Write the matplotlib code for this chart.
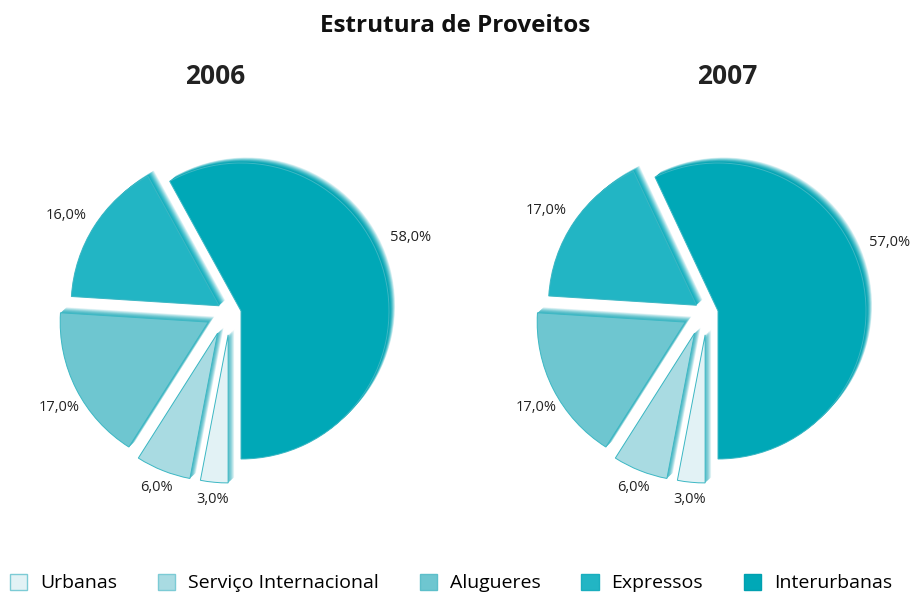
import matplotlib
matplotlib.use("Agg")
import matplotlib.pyplot as plt
import numpy as np
from matplotlib.colors import to_rgb
from matplotlib.patches import Patch

plt.rcParams['font.family'] = ['Open Sans', 'DejaVu Sans']

categories = ["Urbanas", "Serviço Internacional", "Alugueres", "Expressos", "Interurbanas"]
values_2006 = [3.0, 6.0, 17.0, 16.0, 58.0]
values_2007 = [3.0, 6.0, 17.0, 17.0, 57.0]
years = ["2006", "2007"]
colors = ["#e2f2f5", "#a9dbe2", "#6ec6d0", "#22b5c4", "#00a8b7"]
rim_base = ["#62c1cc", "#55bcc8", "#45b8c4", "#14afbf", "#00a3b3"]

W, H = 916, 599
R_PX = 148.0
explode = [20 / R_PX] * 4 + [0.0]
# extra perspective nudge of each exploded slice (pixels, x right / y up)
nudge_px = [(-11, -4), (-16, -3.5), (-15, -2), (-5, -5.5), (0, 0)]
label_nudge = [0, 0, 3, 2, 9]     # degrees
label_dist = [1.12, 1.12, 1.16, 1.2, 1.25]

fig = plt.figure(figsize=(W / 100, H / 100), dpi=100)


def blend(c, t):
    r = np.array(to_rgb(c))
    return tuple(r + (1 - r) * t)


def fmt(p):
    return f"{p:.1f}".replace(".", ",") + "%"


def place(wedges):
    for w, (nx, ny) in zip(wedges, nudge_px):
        w.set_center(tuple(np.array(w.center) + np.array([nx, ny]) / R_PX))


def draw(ax, vals):
    n = 14
    dx, dy = 6.0 / R_PX, 5.5 / R_PX
    for k in range(n, 0, -1):
        t = 0.88 * ((k - 1) / (n - 1)) ** 1.6
        cols = [blend(c, t) for c in rim_base]
        wl, _ = ax.pie(vals, colors=cols, explode=explode, startangle=-90, counterclock=False,
                       center=(k * dx / n, k * dy / n), radius=1.0,
                       wedgeprops=dict(linewidth=0))
        place(wl)
    wedges, _ = ax.pie(
        vals, colors=colors, explode=explode, startangle=-90, counterclock=False, radius=1.0,
        wedgeprops=dict(linewidth=0.7, edgecolor="#3db8c4"))
    place(wedges)
    for i, (w, v) in enumerate(zip(wedges, vals)):
        mid = np.deg2rad((w.theta1 + w.theta2) / 2 + label_nudge[i])
        cx, cy = w.center
        ax.text(cx + label_dist[i] * np.cos(mid), cy + label_dist[i] * np.sin(mid), fmt(v),
                ha="center", va="center", fontsize=10.5, color="#222222")
    lim = 200 / R_PX
    ax.set_xlim(-lim, lim)
    ax.set_ylim(-lim, lim)
    ax.set_aspect("equal")
    ax.axis("off")


centers_x = [241, 718]
for i, (yr, vals) in enumerate(zip(years, [values_2006, values_2007])):
    cx = centers_x[i]
    ax = fig.add_axes([(cx - 200) / W, (H - 511) / H, 400 / W, 400 / H])
    draw(ax, vals)

fig.text(455 / W, 1 - 26 / H, "Estrutura de Proveitos", ha="center", va="center",
         fontsize=17.5, fontweight="bold", color="#111111")
fig.text(215 / W, 1 - 76 / H, years[0], ha="center", va="center",
         fontsize=19, fontweight="bold", color="#222222")
fig.text(727 / W, 1 - 76 / H, years[1], ha="center", va="center",
         fontsize=19, fontweight="bold", color="#222222")

edgecols = ["#7ccbd5", "#7ccbd5", "#5dbfca", "#1aaebe", "#00a0b0"]
handles = [Patch(facecolor=c, edgecolor=e, linewidth=1.0, label=l)
           for c, e, l in zip(colors, edgecols, categories)]
fig.legend(handles=handles, loc="center", bbox_to_anchor=(451 / W, 1 - 583 / H), ncol=5,
           frameon=False, fontsize=14, handlelength=0.9, handleheight=0.9,
           handletextpad=0.65, columnspacing=2.1)

fig.savefig("out.png", dpi=100)
